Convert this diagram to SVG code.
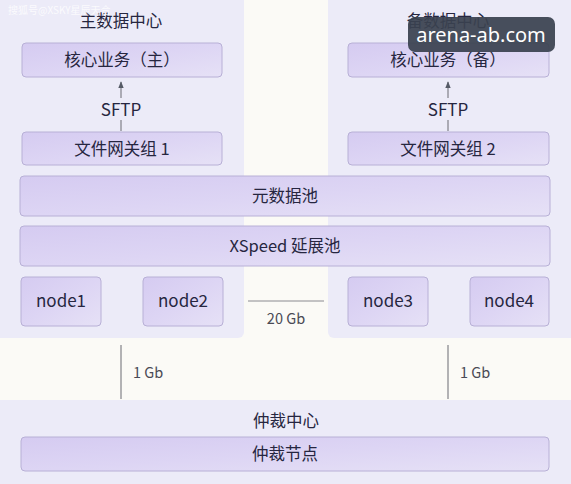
<svg xmlns="http://www.w3.org/2000/svg" width="571" height="484" viewBox="0 0 571 484">
<defs>
<linearGradient id="box" x1="0" y1="0" x2="1" y2="1">
<stop offset="0" stop-color="#d5cbf1"/>
<stop offset="0.5" stop-color="#ddd5f4"/>
<stop offset="1" stop-color="#e6e1f6"/>
</linearGradient>
<marker id="arr" viewBox="0 0 10 10" refX="9" refY="5" markerWidth="7" markerHeight="7" orient="auto">
<path d="M0,1 L10,5 L0,9 Z" fill="#555a66"/>
</marker>
</defs>
<style>
.bg{fill:#fbfaf6}
.zone{fill:#ecebf8}
.box{fill:url(#box);stroke:#b8b0d6;stroke-width:1}
.t{font-family:"Noto Sans CJK SC","Noto Sans",sans-serif;font-size:16.5px;fill:#262640;text-anchor:middle}
.lbl{font-family:"Noto Sans CJK SC","Noto Sans",sans-serif;font-size:14.5px;fill:#4a4a55}
.ln{stroke:#6b6b73;stroke-width:1;fill:none}
</style>
<rect class="bg" x="0" y="0" width="571" height="484"/>
<g id="zone-main"><rect class="zone" x="-6" y="-6" width="250" height="344" rx="6"/><text class="t" x="121" y="27">主数据中心</text></g>
<g id="zone-backup"><rect class="zone" x="328" y="-6" width="250" height="344" rx="6"/><text class="t" x="448" y="27">备数据中心</text></g>
<g id="zone-arb"><rect class="zone" x="-6" y="400" width="583" height="90" rx="6"/><text class="t" x="286" y="427">仲裁中心</text></g>
<g id="connectors">
<line class="ln" x1="121" y1="98" x2="121" y2="82" marker-end="url(#arr)"/>
<line class="ln" x1="121" y1="120" x2="121" y2="131"/>
<line class="ln" x1="448" y1="98" x2="448" y2="82" marker-end="url(#arr)"/>
<line class="ln" x1="448" y1="120" x2="448" y2="131"/>
<text class="t" x="121" y="116" style="font-size:17px">SFTP</text>
<text class="t" x="448" y="116" style="font-size:17px">SFTP</text>
<line class="ln" x1="248" y1="301" x2="324" y2="301" style="stroke:#8a8a90"/>
<text class="lbl" x="286" y="324" text-anchor="middle">20 Gb</text>
<line class="ln" x1="121" y1="345" x2="121" y2="399"/>
<text class="lbl" x="133" y="378">1 Gb</text>
<line class="ln" x1="448" y1="345" x2="448" y2="399"/>
<text class="lbl" x="460" y="378">1 Gb</text>
</g>
<g id="core-main"><rect class="box" x="22" y="43" width="200" height="34" rx="4"/><text class="t" x="122" y="66">核心业务（主）</text></g>
<g id="core-backup"><rect class="box" x="348" y="43" width="201" height="34" rx="4"/><text class="t" x="448" y="66">核心业务（备）</text></g>
<g id="gw1"><rect class="box" x="22" y="132" width="200" height="33" rx="4"/><text class="t" x="122" y="155">文件网关组 1</text></g>
<g id="gw2"><rect class="box" x="348" y="132" width="201" height="33" rx="4"/><text class="t" x="448" y="155">文件网关组 2</text></g>
<g id="meta"><rect class="box" x="20" y="176" width="530" height="40" rx="4"/><text class="t" x="285" y="202">元数据池</text></g>
<g id="xspeed"><rect class="box" x="20" y="226" width="530" height="40" rx="4"/><text class="t" x="285" y="252">XSpeed 延展池</text></g>
<g id="node1"><rect class="box" x="21" y="277" width="80" height="49" rx="4"/><text class="t" x="61" y="307" style="font-size:17px">node1</text></g>
<g id="node2"><rect class="box" x="143" y="277" width="80" height="49" rx="4"/><text class="t" x="183" y="307" style="font-size:17px">node2</text></g>
<g id="node3"><rect class="box" x="348" y="277" width="80" height="49" rx="4"/><text class="t" x="388" y="307" style="font-size:17px">node3</text></g>
<g id="node4"><rect class="box" x="470" y="277" width="79" height="49" rx="4"/><text class="t" x="509" y="307" style="font-size:17px">node4</text></g>
<g id="arb-node"><rect class="box" x="21" y="437" width="528" height="34" rx="4"/><text class="t" x="285" y="460">仲裁节点</text></g>
<text x="8" y="14" style="font-family:'Noto Sans CJK SC',sans-serif;font-size:10px;fill:#ffffff;opacity:0.8">搜狐号@XSKY星辰天合</text>
<g id="watermark"><rect x="408" y="17" width="147" height="35" rx="7" fill="#3a4250" opacity="0.93"/><text x="481" y="42" style="font-family:'Noto Sans','DejaVu Sans',sans-serif;font-size:20px;fill:#ffffff;text-anchor:middle">arena-ab.com</text></g>
</svg>
